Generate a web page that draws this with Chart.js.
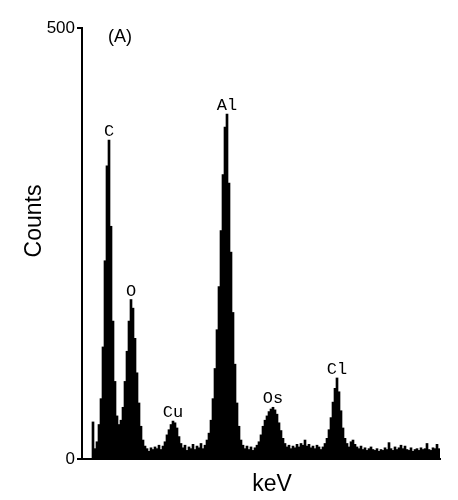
<!DOCTYPE html>
<html>
<head>
<meta charset="utf-8">
<title>EDS spectrum (A)</title>
<script src="https://cdn.jsdelivr.net/npm/chart.js@4/dist/chart.umd.min.js"></script>
<style>
  html, body { margin: 0; padding: 0; background: #fff; }
  canvas { display: block; }
</style>
</head>
<body>
<canvas id="spectrum" width="458" height="500"></canvas>
<script>
// counts per channel (left to right)
const counts = [
  0, 0, 0, 0, 0,
  43, 12, 20, 40, 70, 130, 230, 340, 370, 270, 160, 90, 50, 40, 45,
  60, 90, 125, 160, 185, 175, 140, 100, 65, 38, 22, 15, 12, 9, 13,
  11, 14, 12, 16, 11, 15, 20, 28, 34, 40, 44, 42, 36, 26, 18,
  13, 16, 10, 14, 12, 17, 11, 15, 13, 18, 12, 16, 22, 30, 45,
  70, 105, 150, 200, 265, 330, 385, 400, 320, 240, 170, 110, 65, 38, 22,
  16, 12, 15, 11, 14, 10, 13, 16, 20, 28, 38, 45, 50, 55, 58,
  60, 57, 52, 42, 33, 24, 18, 14, 16, 12, 15, 13, 17, 14, 18,
  16, 22, 15, 17, 13, 15, 12, 16, 14, 11, 14, 18, 24, 34, 48,
  66, 82, 94, 78, 56, 36, 24, 18, 14, 20, 22, 17, 14, 12, 15,
  11, 13, 10, 12, 14, 11, 10, 12, 9, 11, 10, 13, 11, 19, 12,
  10, 14, 11, 13, 16, 12, 15, 11, 10, 13, 9, 11, 12, 10, 13,
  11, 12, 18, 11, 10, 13, 12, 17, 12
];
const channels = counts.map((_, i) => i);

// element labels and the channel of the peak they mark
const peakNames = ['C', 'O', 'Cu', 'Al', 'Os', 'Cl'];
const peakChannels = [13, 24, 45, 72, 95, 127];

const yTicks = [0, 500];
const panelLabel = '(A)';
const xTitle = 'keV';
const yTitle = 'Counts';

const textPlugin = {
  id: 'spectrumText',
  afterDraw: (chart) => {
    const ctx = chart.ctx;
    const xs = chart.scales.x;
    const ys = chart.scales.y;
    const area = chart.chartArea;
    ctx.save();
    ctx.fillStyle = '#000';

    // peak labels
    ctx.font = '17px "Liberation Mono", monospace';
    ctx.textAlign = 'center';
    ctx.textBaseline = 'alphabetic';
    peakNames.forEach((name, k) => {
      const ch = peakChannels[k];
      ctx.fillText(name, xs.getPixelForValue(ch), ys.getPixelForValue(counts[ch]) - 4);
    });

    // panel label
    ctx.font = '18px "Liberation Sans", Arial, sans-serif';
    ctx.fillText(panelLabel, area.left + 38, area.top + 14);

    // axis titles
    ctx.font = '23px "Liberation Sans", Arial, sans-serif';
    ctx.fillText(xTitle, 272, 491);
    ctx.translate(41, 221);
    ctx.rotate(-Math.PI / 2);
    ctx.fillText(yTitle, 0, 0);
    ctx.restore();
  }
};

new Chart(document.getElementById('spectrum'), {
  type: 'bar',
  data: {
    labels: channels,
    datasets: [{
      data: counts,
      backgroundColor: '#000',
      borderWidth: 0,
      barPercentage: 1,
      categoryPercentage: 1
    }]
  },
  options: {
    responsive: false,
    devicePixelRatio: 1,
    animation: false,
    layout: { padding: { left: 0, top: 28, right: 18, bottom: 41 } },
    plugins: {
      legend: { display: false },
      tooltip: { enabled: false }
    },
    scales: {
      x: {
        grid: { display: false },
        ticks: { display: false },
        border: { display: true, color: '#000', width: 2 },
        afterFit: (s) => { s.height = 0; }
      },
      y: {
        min: 0,
        max: 500,
        afterBuildTicks: (s) => { s.ticks = yTicks.map(v => ({ value: v })); },
        ticks: {
          color: '#000',
          padding: 2,
          font: { family: '"Liberation Sans", Arial, sans-serif', size: 17 }
        },
        grid: {
          display: true,
          drawOnChartArea: false,
          drawTicks: true,
          tickLength: 5,
          color: '#000',
          lineWidth: 2
        },
        border: { display: true, color: '#000', width: 2 },
        afterFit: (s) => { s.width = 82; }
      }
    }
  },
  plugins: [textPlugin]
});
</script>
</body>
</html>
